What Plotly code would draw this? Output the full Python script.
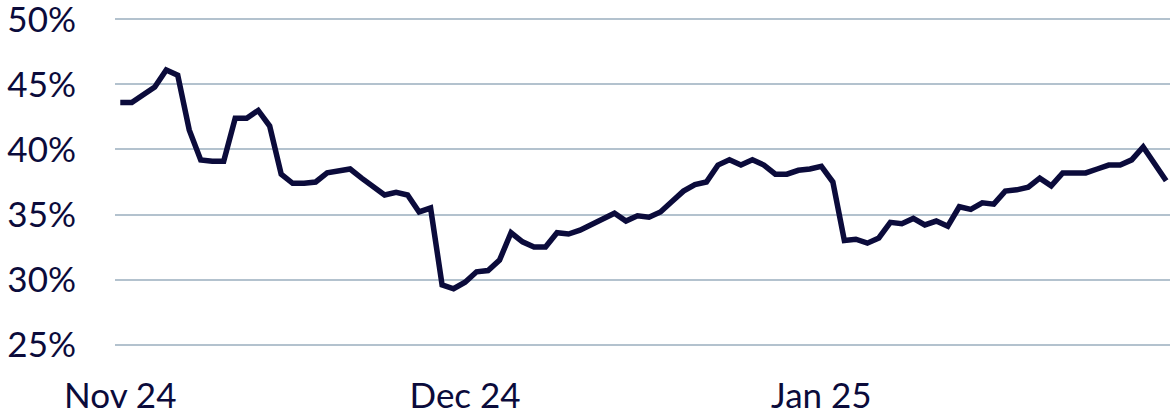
import plotly.graph_objects as go
import pandas as pd

dates = pd.date_range("2024-11-01", "2025-01-31", freq="D")
values = [
    43.6, 43.6, 44.2, 44.8, 46.1, 45.7, 41.5, 39.2, 39.1, 39.1,
    42.4, 42.4, 43.0, 41.8, 38.1, 37.4, 37.4, 37.5, 38.2, 38.3,
    38.5, 37.8, 37.2, 36.5, 36.7, 36.5, 35.2, 35.5, 29.6, 29.3,
    29.8, 30.6, 30.7, 31.5, 33.6, 32.9, 32.5, 32.5, 33.6, 33.5,
    33.8, 34.2, 34.7, 35.1, 34.5, 34.9, 34.8, 35.2, 36.0, 36.8,
    37.3, 37.5, 38.8, 39.2, 38.8, 39.2, 38.8, 38.1, 38.1, 38.4,
    38.5, 38.7, 37.5, 33.0, 33.1, 32.8, 33.2, 34.4, 34.3, 34.7,
    34.2, 34.5, 34.1, 35.6, 35.4, 35.9, 35.8, 36.8, 36.9, 37.1,
    37.8, 37.2, 38.2, 38.2, 38.2, 38.5, 38.8, 38.8, 39.2, 40.2,
    38.9, 37.6,
]
y_ticks = [25, 30, 35, 40, 45, 50]
y_tick_labels = ["25%", "30%", "35%", "40%", "45%", "50%"]
x_ticks = ["2024-11-01", "2024-12-01", "2025-01-01"]
x_tick_labels = ["Nov 24", "Dec 24", "Jan 25"]

navy = "#0b0b3b"
fig = go.Figure()
fig.add_trace(go.Scatter(
    x=dates, y=values, mode="lines",
    line=dict(color=navy, width=5.5),
    hoverinfo="skip", showlegend=False, cliponaxis=False,
))
fig.update_layout(
    width=1170, height=416,
    margin=dict(l=115, r=0, t=18, b=70, autoexpand=False),
    paper_bgcolor="white", plot_bgcolor="white",
    font=dict(family="Lato, sans-serif", size=35, color=navy),
)
fig.update_xaxes(
    type="date", automargin=False,
    range=["2024-10-31 13:00", "2025-01-31 08:00"],
    tickvals=x_ticks, ticktext=x_tick_labels,
    showgrid=False, zeroline=False, showline=False, ticks="",
    ticklabelstandoff=26, ticklabeloverflow="allow",
)
fig.update_yaxes(
    automargin=False,
    range=[24.9, 50.1],
    tickvals=y_ticks, ticktext=y_tick_labels,
    showgrid=True, gridcolor="#b3c2ce", gridwidth=2,
    zeroline=False, showline=False, ticks="",
    ticklabelstandoff=38, ticklabeloverflow="allow",
)
fig.write_html(
    "out.html",
    config={"displayModeBar": False},
    post_script="document.body.style.margin='0';document.body.style.overflow='hidden';",
)
